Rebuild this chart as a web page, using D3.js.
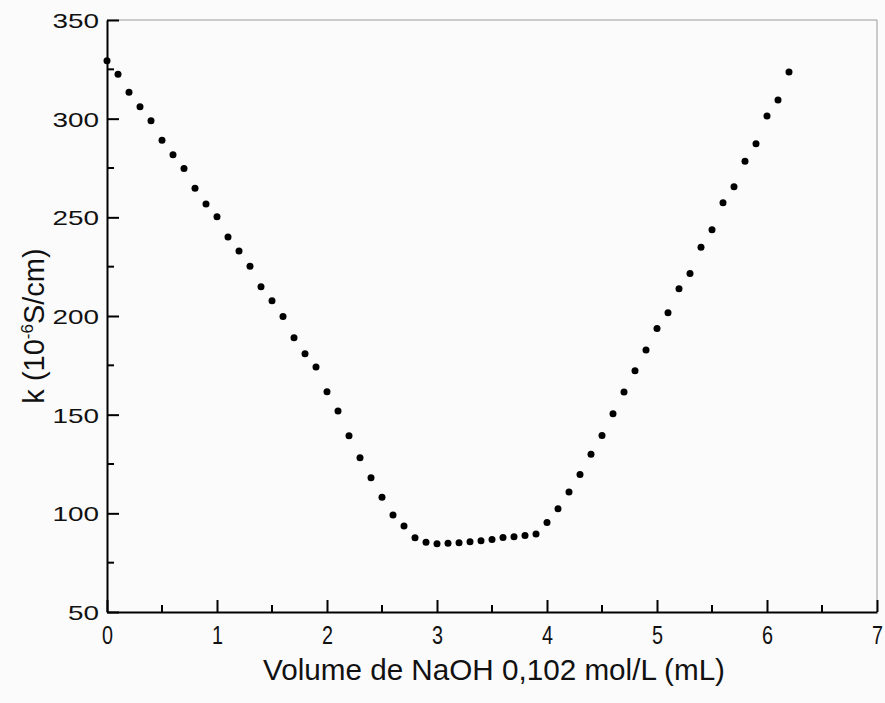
<!DOCTYPE html>
<html>
<head>
<meta charset="utf-8">
<script src="https://cdn.jsdelivr.net/npm/d3@7"></script>
<style>
  body { margin: 0; background: #fbfbfb; }
  svg { display: block; }
</style>
</head>
<body>
<svg width="885" height="703"></svg>
<script>
// volume of NaOH added (mL)
var volume = [0, 0.1, 0.2, 0.3, 0.4, 0.5, 0.6, 0.7, 0.8, 0.9,
    1.0, 1.1, 1.2, 1.3, 1.4, 1.5, 1.6, 1.7, 1.8, 1.9,
    2.0, 2.1, 2.2, 2.3, 2.4, 2.5, 2.6, 2.7, 2.8, 2.9,
    3.0, 3.1, 3.2, 3.3, 3.4, 3.5, 3.6, 3.7, 3.8, 3.9,
    4.0, 4.1, 4.2, 4.3, 4.4, 4.5, 4.6, 4.7, 4.8, 4.9,
    5.0, 5.1, 5.2, 5.3, 5.4, 5.5, 5.6, 5.7, 5.8, 5.9,
    6.0, 6.1, 6.2];
// conductivity k (10^-6 S/cm)
var conductivity = [329.4, 322.5, 313.4, 306, 299, 289, 281.7, 274.8, 264.7, 256.7,
    250.3, 240, 232.9, 225.2, 214.8, 207.7, 199.8, 189, 180.9, 174.1,
    161.6, 151.8, 139.3, 128.2, 118, 108.1, 99.1, 93.6, 87.6, 85.4,
    84.6, 84.8, 85.1, 85.6, 86.1, 86.8, 87.8, 88.1, 88.8, 89.5,
    95.3, 102.3, 110.8, 119.7, 129.9, 139.5, 150.5, 161.5, 172.3, 182.8,
    193.7, 201.6, 213.8, 221.6, 234.8, 243.7, 257.4, 265.5, 278.4, 287.3,
    301.3, 309.5, 323.6];

var xMajor = [0, 1, 2, 3, 4, 5, 6, 7],
    xMinor = [0.5, 1.5, 2.5, 3.5, 4.5, 5.5, 6.5],
    yMajor = [50, 100, 150, 200, 250, 300, 350],
    yMinor = [75, 125, 175, 225, 275, 325];

var svg = d3.select("svg"),
    margin = {top: 20, right: 8, bottom: 91, left: 107},
    width = svg.attr("width") - margin.left - margin.right,
    height = svg.attr("height") - margin.top - margin.bottom;

var x = d3.scaleLinear().domain([0, 7]).range([0, width]),
    y = d3.scaleLinear().domain([50, 350]).range([height, 0]);

var g = svg.append("g")
    .attr("transform", "translate(" + margin.left + "," + margin.top + ")");

// frame top and right (thin grey)
g.append("line")
    .attr("x1", 0).attr("x2", width).attr("y1", 0).attr("y2", 0)
    .attr("stroke", "#9a9a9a").attr("stroke-width", 1);
g.append("line")
    .attr("x1", width).attr("x2", width).attr("y1", 0).attr("y2", height)
    .attr("stroke", "#9a9a9a").attr("stroke-width", 1);

// minor ticks
g.selectAll(".xminor").data(xMinor).enter().append("line")
    .attr("x1", function(d) { return x(d); })
    .attr("x2", function(d) { return x(d); })
    .attr("y1", height).attr("y2", height - 7)
    .attr("stroke", "#000").attr("stroke-width", 2);
g.selectAll(".yminor").data(yMinor).enter().append("line")
    .attr("x1", 0).attr("x2", 7)
    .attr("y1", function(d) { return y(d); })
    .attr("y2", function(d) { return y(d); })
    .attr("stroke", "#000").attr("stroke-width", 2);

var xAxis = g.append("g")
    .attr("transform", "translate(0," + height + ")")
    .call(d3.axisBottom(x).tickValues(xMajor).tickFormat(d3.format("d"))
        .tickSize(-12).tickPadding(18).tickSizeOuter(0));

var yAxis = g.append("g")
    .call(d3.axisLeft(y).tickValues(yMajor).tickFormat(d3.format("d"))
        .tickSize(-12).tickPadding(8).tickSizeOuter(0));

[xAxis, yAxis].forEach(function(ax) {
    ax.select(".domain").attr("stroke-width", 2);
    ax.selectAll(".tick line").attr("stroke-width", 2);
    ax.selectAll(".tick text")
        .attr("fill", "#111")
        .style("font-family", "'Liberation Sans', Arial, sans-serif");
});

xAxis.selectAll(".tick text")
    .style("font-size", "25px")
    .attr("dy", "0")
    .attr("y", 32)
    .attr("textLength", 11)
    .attr("lengthAdjust", "spacingAndGlyphs");

yAxis.selectAll(".tick text")
    .style("font-size", "21px")
    .attr("dy", "0.36em")
    .attr("textLength", function(d) { return String(d).length * 15.5; })
    .attr("lengthAdjust", "spacingAndGlyphs");

// data points
g.selectAll(".dot")
    .data(volume)
    .enter().append("circle")
    .attr("class", "dot")
    .attr("cx", function(d) { return x(d); })
    .attr("cy", function(d, i) { return y(conductivity[i]); })
    .attr("r", 3.5)
    .attr("fill", "#000");

// axis titles
svg.append("text")
    .attr("x", 494)
    .attr("y", 680)
    .attr("text-anchor", "middle")
    .style("font", "30px 'Liberation Sans', Arial, sans-serif")
    .attr("fill", "#111")
    .attr("textLength", 462)
    .attr("lengthAdjust", "spacingAndGlyphs")
    .text("Volume de NaOH 0,102 mol/L (mL)");

var yt = svg.append("text")
    .attr("transform", "translate(44,326) rotate(-90)")
    .attr("text-anchor", "middle")
    .style("font", "29px 'Liberation Sans', Arial, sans-serif")
    .attr("fill", "#111");
yt.append("tspan").text("k (10");
yt.append("tspan").attr("dy", -11).style("font-size", "17px").text("-6");
yt.append("tspan").attr("dy", 11).text("S/cm)");
</script>
</body>
</html>
